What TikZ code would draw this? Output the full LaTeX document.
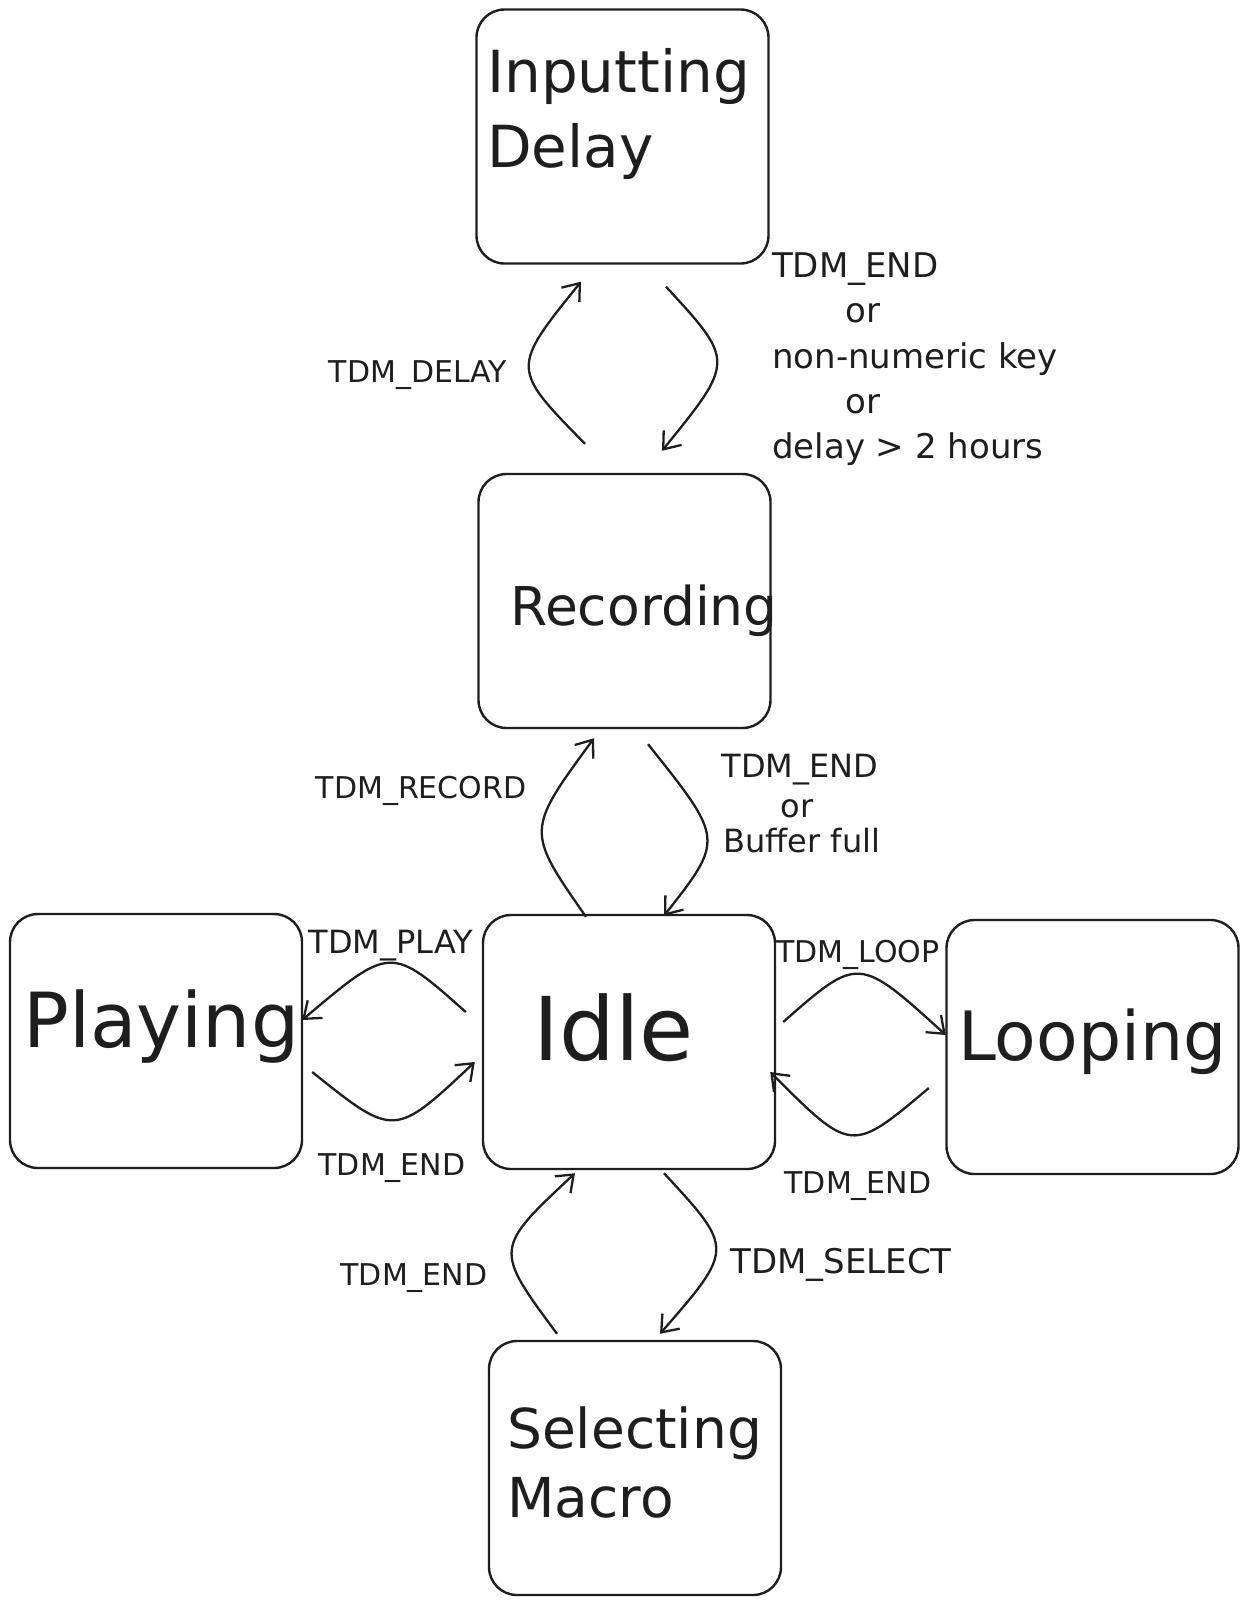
\documentclass[tikz,border=0pt]{standalone}
\usepackage{fontspec}
\setmainfont{DejaVu Sans}
\usetikzlibrary{calc,arrows.meta}
\definecolor{ink}{HTML}{1E1E1E}
\begin{document}
\begin{tikzpicture}[x=1pt,y=-1pt,
  state/.style={draw=ink, line width=2.4pt, rounded corners=28pt, minimum width=292pt, minimum height=254pt, inner sep=0pt},
  big/.style={text=ink, inner sep=0pt, anchor=base west},
  lbl/.style={text=ink, inner sep=0pt, anchor=base, font=\fontsize{30}{36}\selectfont},
  lblw/.style={text=ink, inner sep=0pt, anchor=base west, font=\fontsize{34}{36}\selectfont},
  arr/.style={draw=ink, line width=2.3pt, -{Straight Barb[length=15pt,width=23pt,line width=2.3pt]}},
]
\useasboundingbox[fill=white] (0,0) rectangle (1248,1604);

% states
\node[state] (inp)  at (622.5,136.5) {};
\node[state] (rec)  at (624.5,601)   {};
\node[state] (idle) at (629,1042)    {};
\node[state] (play) at (156,1041)    {};
\node[state] (loop) at (1092.5,1047) {};
\node[state] (sel)  at (635,1468)    {};

% state texts
\node[big, font=\fontsize{58}{60}\selectfont] (tinp1) at (487,92)  {Inputting};
\node[big, font=\fontsize{58}{60}\selectfont] (tinp2) at (487,167) {Delay};
\node[big, font=\fontsize{53.5}{60}\selectfont] (trec)  at (510,625) {Recording};
\node[big, font=\fontsize{88}{90}\selectfont] (tidle) at (533,1060) {Idle};
\node[big, font=\fontsize{76}{80}\selectfont] (tplay) at (23,1047) {Playing};
\node[big, font=\fontsize{68}{70}\selectfont] (tloop) at (958,1060) {Looping};
\node[big, font=\fontsize{55}{60}\selectfont] (tsel1) at (507,1448) {Selecting};
\node[big, font=\fontsize{55}{60}\selectfont] (tsel2) at (507,1517) {Macro};

% connector end points
\coordinate (a1s)  at ($(rec.north)+(-39.5,-29)$);
\coordinate (a1e)  at ($(inp.south)+(-41.5,17)$);
\coordinate (a2s)  at ($(inp.south)+(43.5,22)$);
\coordinate (a2e)  at ($(rec.north)+(37.5,-22)$);
\coordinate (a3s)  at ($(idle.north)+(-43,3)$);
\coordinate (a3e)  at ($(rec.south)+(-30.5,9)$);
\coordinate (a4s)  at ($(rec.south)+(23.5,15)$);
\coordinate (a4e)  at ($(idle.north)+(35,2)$);
\coordinate (a5s)  at ($(idle.west)+(-16,-30)$);
\coordinate (a5e)  at ($(play.east)+(-1,-21)$);
\coordinate (a6s)  at ($(play.east)+(9,31)$);
\coordinate (a6e)  at ($(idle.west)+(-7,20)$);
\coordinate (a7s)  at ($(idle.east)+(7,-20)$);
\coordinate (a7e)  at ($(loop.west)+(0.5,-12)$);
\coordinate (a8s)  at ($(loop.west)+(-16.5,41)$);
\coordinate (a8e)  at ($(idle.east)+(-6,30)$);
\coordinate (a9s)  at ($(sel.north)+(-78,-6)$);
\coordinate (a9e)  at ($(idle.south)+(-54,3)$);
\coordinate (a10s) at ($(idle.south)+(35,3)$);
\coordinate (a10e) at ($(sel.north)+(25,-6)$);

% bend points
\coordinate (c1)  at (511,368.5);
\coordinate (c2)  at (734.7,361.2);
\coordinate (c3)  at (526,830.8);
\coordinate (c4)  at (724,839.3);
\coordinate (c5)  at (390.7,945.3);
\coordinate (c6)  at (394.2,1137.7);
\coordinate (c7)  at (858.5,955.8);
\coordinate (c8)  at (851.5,1153.3);
\coordinate (c9)  at (494,1248.8);
\coordinate (c10) at (734,1248.8);

% connectors
\draw[arr] (a1s)  .. controls (c1)  and (c1)  .. (a1e);
\draw[arr] (a2s)  .. controls (c2)  and (c2)  .. (a2e);
\draw[arr] (a3s)  .. controls (c3)  and (c3)  .. (a3e);
\draw[arr] (a4s)  .. controls (c4)  and (c4)  .. (a4e);
\draw[arr] (a5s)  .. controls (c5)  and (c5)  .. (a5e);
\draw[arr] (a6s)  .. controls (c6)  and (c6)  .. (a6e);
\draw[arr] (a7s)  .. controls (c7)  and (c7)  .. (a7e);
\draw[arr] (a8s)  .. controls (c8)  and (c8)  .. (a8e);
\draw[arr] (a9s)  .. controls (c9)  and (c9)  .. (a9e);
\draw[arr] (a10s) .. controls (c10) and (c10) .. (a10e);

% connector labels
\node[lbl] (l1) at (418,382)  {TDM\_DELAY};
\node[lbl] (l3) at (421,798)  {TDM\_RECORD};
\node[lbl, font=\fontsize{32}{36}\selectfont] (l5) at (391,953)  {TDM\_PLAY};
\node[lbl] (l6) at (392,1175) {TDM\_END};
\node[lbl] (l7) at (858,962)  {TDM\_LOOP};
\node[lbl] (l8) at (858,1193) {TDM\_END};
\node[lbl] (l9) at (414,1285) {TDM\_END};
\node[lbl, font=\fontsize{34}{36}\selectfont] (l10) at (841,1273) {TDM\_SELECT};

\node[lbl, font=\fontsize{32}{36}\selectfont] (l4a) at (800,777) {TDM\_END};
\node[lbl, font=\fontsize{32}{36}\selectfont] (l4b) at (797,817) {or};
\node[lbl, font=\fontsize{32}{36}\selectfont] (l4c) at (802,852) {Buffer full};

\node[lblw] (l2a) at (772,277) {TDM\_END};
\node[lblw] (l2b) at (845,322) {or};
\node[lblw] (l2c) at (772,368) {non-numeric key};
\node[lblw] (l2d) at (845,413) {or};
\node[lblw] (l2e) at (772,458) {delay > 2 hours};
\end{tikzpicture}
\end{document}
